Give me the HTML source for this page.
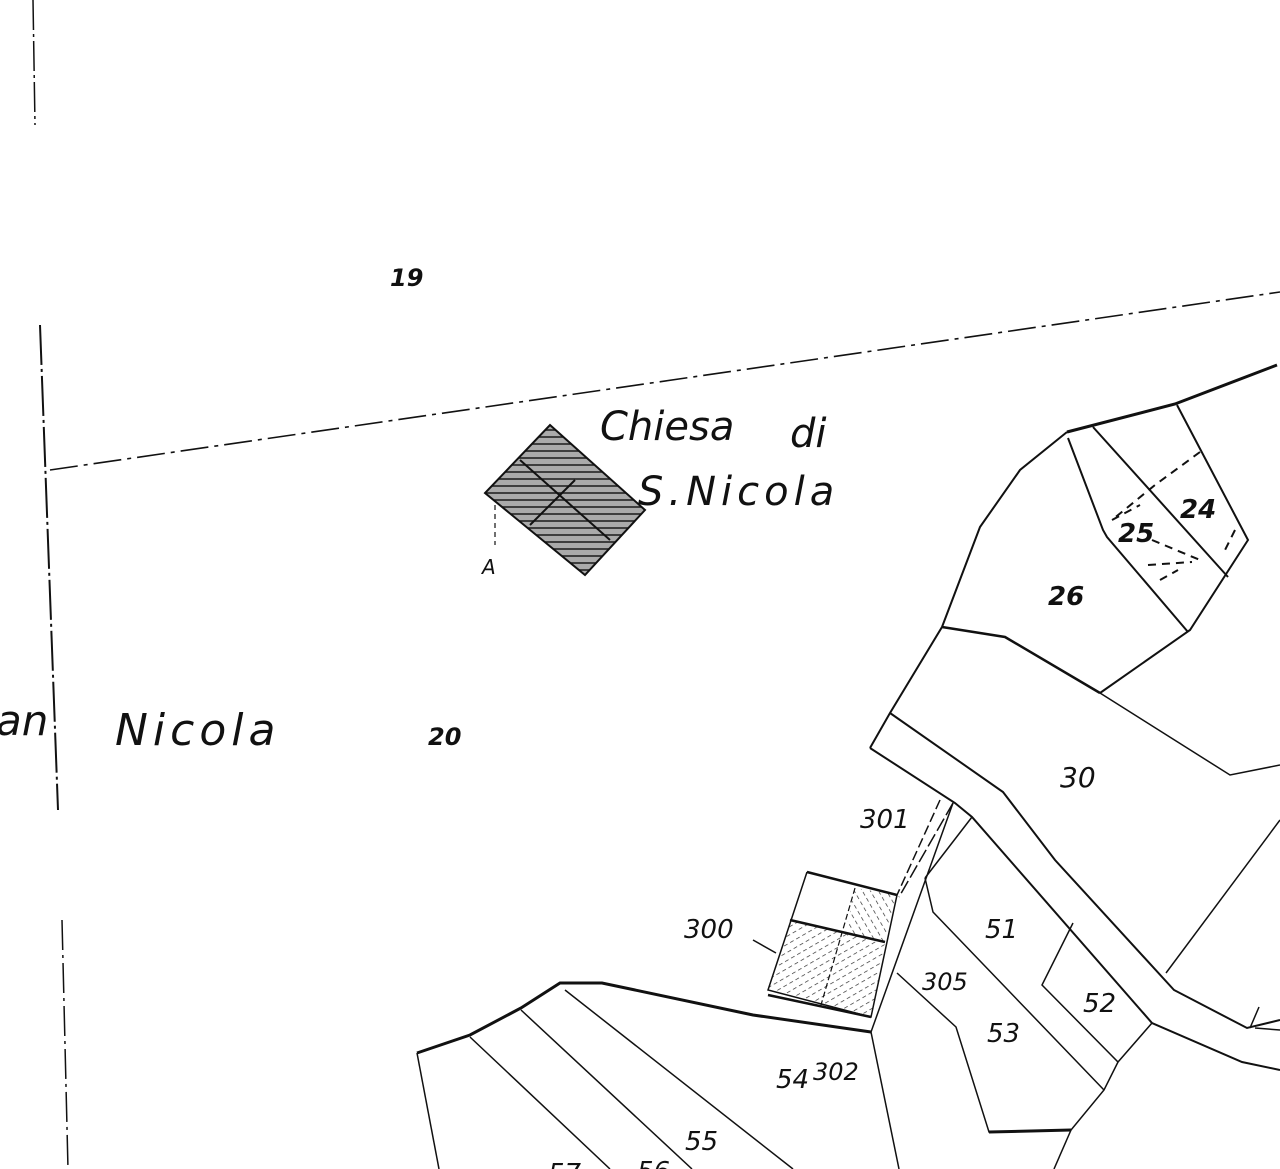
<!DOCTYPE html>
<html><head><meta charset="utf-8"><style>
html,body{margin:0;padding:0;background:#fff;}
svg{display:block}
text{font-family:"DejaVu Sans","Liberation Sans",sans-serif;font-style:italic;fill:#111;}
.n{font-weight:bold}
</style></head><body>
<svg width="1280" height="1169" viewBox="0 0 1280 1169" xmlns="http://www.w3.org/2000/svg">
<defs>
<pattern id="hatch" width="8" height="7" patternUnits="userSpaceOnUse">
<rect width="8" height="7" fill="#aaa"/><line x1="0" y1="3" x2="8" y2="3" stroke="#222" stroke-width="1.6"/>
</pattern>
<pattern id="hatch2" width="7" height="7" patternUnits="userSpaceOnUse" patternTransform="rotate(60)">
<line x1="0" y1="0" x2="0" y2="4" stroke="#222" stroke-width="1.3"/>
</pattern>
<pattern id="hatch3" width="7" height="7" patternUnits="userSpaceOnUse" patternTransform="rotate(-30)">
<line x1="0" y1="0" x2="0" y2="4" stroke="#222" stroke-width="1.3"/>
</pattern>
</defs>
<g fill="none" stroke="#111">
<line x1="33" y1="0" x2="35" y2="125" stroke-width="1.5" stroke-dasharray="30 4 3 4"/>
<line x1="40" y1="325" x2="58" y2="810" stroke-width="2" stroke-dasharray="40 4 3 4"/>
<line x1="62" y1="920" x2="68" y2="1169" stroke-width="1.5" stroke-dasharray="30 5 3 5"/>
<line x1="50" y1="470" x2="1280" y2="292" stroke-width="1.6" stroke-dasharray="28 6 4 6"/>
<polyline points="1067,432 1175,404 1277,365" stroke-width="3"/>
<polyline points="1067,432 1020,470 980,527 942,627 890,713 870,748" stroke-width="2"/>
<polyline points="942,627 1005,637 1100,693" stroke-width="2.5"/>
<polyline points="1100,693 1190,630 1248,540 1177,405" stroke-width="2"/>
<polyline points="1068,438 1103,530 1107,537 1188,632" stroke-width="2"/>
<line x1="1093" y1="427" x2="1228" y2="577" stroke-width="2"/>
<polyline points="1100,693 1230,775 1280,765" stroke-width="1.5"/>
<g stroke-dasharray="8 6" stroke-width="2">
<polyline points="1200,452 1155,485 1112,520"/>
<polyline points="1112,520 1140,505"/>
<line x1="1152" y1="540" x2="1200" y2="560"/>
<line x1="1148" y1="565" x2="1192" y2="562"/>
<line x1="1235" y1="530" x2="1225" y2="550"/>
<line x1="1160" y1="580" x2="1178" y2="570"/>
</g>
<polyline points="870,748 955,803 972,817 1152,1023 1242,1062 1280,1070" stroke-width="2"/>
<polyline points="890,713 1003,792 1055,860 1174,990 1247,1028 1280,1020" stroke-width="2"/>
<polyline points="1280,820 1166,973" stroke-width="1.5"/>
<polyline points="1259,1007 1250,1028" stroke-width="1.5"/>
<line x1="1255" y1="1028" x2="1280" y2="1030" stroke-width="1.5"/>
<line x1="953" y1="803" x2="899" y2="897" stroke-width="1.5" stroke-dasharray="14 4"/>
<line x1="972" y1="817" x2="925" y2="878" stroke-width="1.5"/>
<polyline points="925,878 933,912 1104,1090" stroke-width="1.5"/>
<polyline points="1073,923 1042,985 1118,1062 1152,1023" stroke-width="1.5"/>
<polyline points="1118,1062 1104,1090 1071,1130 989,1132 956,1027 897,973" stroke-width="1.5"/>
<line x1="989" y1="1132" x2="1071" y2="1130" stroke-width="3"/>
<line x1="1071" y1="1130" x2="1054" y2="1169" stroke-width="1.5"/>
<line x1="953" y1="803" x2="871" y2="1032" stroke-width="1.5"/>
<line x1="940" y1="800" x2="897" y2="895" stroke-width="1.5" stroke-dasharray="10 4"/>
<line x1="871" y1="1032" x2="899" y2="1169" stroke-width="1.5"/>
<polyline points="417,1053 470,1035 521,1008 560,983 602,983 753,1015 871,1032" stroke-width="3"/>
<line x1="417" y1="1053" x2="439" y2="1169" stroke-width="1.5"/>
<line x1="470" y1="1037" x2="610" y2="1169" stroke-width="1.5"/>
<line x1="521" y1="1010" x2="692" y2="1169" stroke-width="1.5"/>
<line x1="565" y1="990" x2="793" y2="1169" stroke-width="1.5"/>
<polygon points="790,920 885,942 871,1017 768,990" fill="url(#hatch2)" stroke="none"/>
<polygon points="855,888 897,895 885,942 845,935" fill="url(#hatch3)" stroke="none"/>
<polyline points="807,872 897,895 871,1017 768,990 807,872" stroke-width="1.5"/>
<line x1="807" y1="872" x2="897" y2="895" stroke-width="2.5"/>
<line x1="768" y1="995" x2="871" y2="1017" stroke-width="2.5"/>
<line x1="790" y1="920" x2="885" y2="942" stroke-width="2.5"/>
<line x1="855" y1="888" x2="821" y2="1005" stroke-width="1.2" stroke-dasharray="6 3"/>
<line x1="753" y1="940" x2="776" y2="953" stroke-width="1.5"/>
<polygon points="550,425 645,510 585,575 485,493" fill="url(#hatch)" stroke-width="2"/>
<line x1="520" y1="460" x2="610" y2="540" stroke-width="2"/>
<line x1="575" y1="480" x2="530" y2="525" stroke-width="2"/>
<line x1="495" y1="505" x2="495" y2="545" stroke-width="1.2" stroke-dasharray="5 4"/>
</g>
<text x="390" y="286" font-size="24" class="n">19</text>
<text x="600" y="440" font-size="40">Chiesa</text>
<text x="790" y="447" font-size="40">di</text>
<text x="638" y="505" font-size="40" letter-spacing="5">S.Nicola</text>
<text x="482" y="574" font-size="20">A</text>
<text x="-4" y="735" font-size="42">an</text>
<text x="115" y="745" font-size="44" letter-spacing="5">Nicola</text>
<text x="428" y="745" font-size="24" class="n">20</text>
<text x="860" y="828" font-size="26">301</text>
<text x="684" y="938" font-size="26">300</text>
<text x="922" y="990" font-size="24">305</text>
<text x="985" y="938" font-size="26">51</text>
<text x="1083" y="1012" font-size="26">52</text>
<text x="987" y="1042" font-size="26">53</text>
<text x="776" y="1088" font-size="26">54</text>
<text x="813" y="1080" font-size="24">302</text>
<text x="685" y="1150" font-size="26">55</text>
<text x="637" y="1180" font-size="26">56</text>
<text x="548" y="1182" font-size="26">57</text>
<text x="1048" y="605" font-size="26" class="n">26</text>
<text x="1060" y="787" font-size="28">30</text>
<text x="1118" y="542" font-size="26" class="n">25</text>
<text x="1180" y="518" font-size="26" class="n">24</text>
</svg>
</body></html>
